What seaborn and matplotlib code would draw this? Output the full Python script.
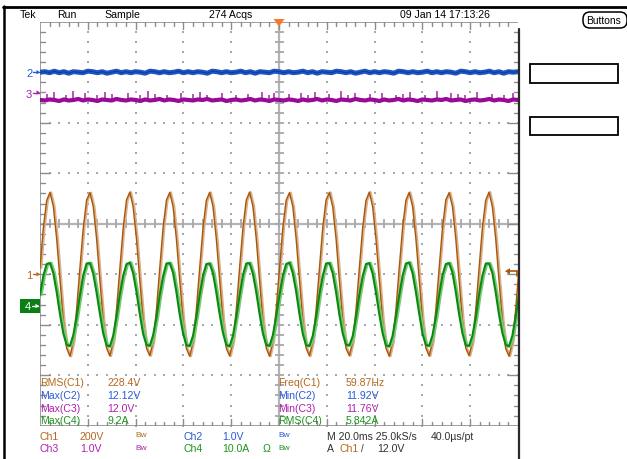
import numpy as np
import pandas as pd
import matplotlib
matplotlib.use("Agg")
import matplotlib.pyplot as plt
from matplotlib.patches import FancyBboxPatch, Rectangle, Polygon
from matplotlib.lines import Line2D
from matplotlib.transforms import IdentityTransform
import seaborn as sns

# ---------------- scope settings (read from the readout) ----------------
time_per_div_ms = 20.0
ch1_volts_per_div = 200.0
ch1_ground_div = -1.0
ch2_volts_per_div = 1.0
ch2_ref_volts, ch2_ref_div = 12.0, 3.0
ch3_volts_per_div = 1.0
ch3_ref_volts, ch3_ref_div = 12.0, 2.62
ch4_amps_per_div = 10.0
ch4_ground_div = -1.6
trigger_level_volts = 12.0

# ---------------- waveform readings ----------------
wave_start_ms = -100.0
wave_step_ms = 1.3917
ch1_volts = [
    24, 183, 292, 324, 269, 141, -23, -183, -293, -325, -268, -140,
    25, 182, 293, 323, 268, 142, -24, -184, -292, -324, -267, -141,
    23, 183, 294, 325, 267, 141, -25, -183, -293, -323, -268, -142,
    24, 184, 293, 324, 268, 140, -24, -182, -294, -325, -269, -141,
    24, 183, 292, 324, 268, 141, -23, -183, -293, -324, -268, -141,
    25, 182, 293, 325, 269, 142, -24, -184, -292, -325, -267, -140,
    24, 183, 293, 323, 268, 141, -24, -183, -293, -324, -268, -141,
    23, 184, 294, 324, 267, 141, -25, -182, -294, -323, -268, -142,
    24, 183, 292, 325, 268, 140, -24, -183, -293, -325, -269, -141,
    25, 182, 293, 324, 269, 142, -23, -184, -292, -324, -267, -141,
    24, 183, 294, 323, 268, 141, -24, -183, -293, -323, -268, -140,
    23, 184, 293, 325, 267, 141, -25, -182, -294, -325, -268, -142,
    24,
]
ch4_amps = [
    1.9, 5.7, 8.0, 8.2, 6.2, 2.5, -1.9, -5.7, -8.0, -8.2, -6.1, -2.5,
    1.8, 5.8, 8.1, 8.2, 6.1, 2.4, -1.8, -5.7, -8.1, -8.3, -6.2, -2.4,
    2.0, 5.7, 8.0, 8.3, 6.2, 2.5, -1.9, -5.8, -8.0, -8.2, -6.1, -2.6,
    1.9, 5.6, 8.1, 8.2, 6.3, 2.5, -2.0, -5.7, -8.1, -8.2, -6.2, -2.5,
    1.9, 5.7, 8.0, 8.1, 6.2, 2.4, -1.9, -5.6, -8.0, -8.3, -6.2, -2.5,
    1.8, 5.8, 8.1, 8.2, 6.1, 2.5, -1.8, -5.7, -8.0, -8.2, -6.1, -2.4,
    1.9, 5.7, 8.0, 8.3, 6.2, 2.6, -1.9, -5.8, -8.1, -8.2, -6.2, -2.5,
    2.0, 5.7, 8.1, 8.2, 6.2, 2.5, -2.0, -5.7, -8.0, -8.1, -6.3, -2.5,
    1.9, 5.6, 8.0, 8.2, 6.1, 2.4, -1.9, -5.7, -8.1, -8.3, -6.2, -2.4,
    1.8, 5.7, 8.1, 8.3, 6.2, 2.5, -1.8, -5.8, -8.0, -8.2, -6.1, -2.5,
    1.9, 5.8, 8.0, 8.2, 6.3, 2.5, -1.9, -5.7, -8.1, -8.2, -6.2, -2.6,
    2.0, 5.7, 8.1, 8.1, 6.2, 2.4, -2.0, -5.6, -8.0, -8.3, -6.2, -2.5,
    1.9,
]

dc_start_ms = -100.0
dc_step_ms = 2.0
ch2_volts = [
    12.00, 12.01, 11.99, 12.02, 11.99, 12.01, 11.98, 12.01, 12.00, 11.99,
    12.02, 12.01, 11.99, 12.01, 11.98, 12.00, 12.02, 11.99, 12.01, 11.99,
    12.01, 12.00, 11.98, 12.02, 12.01, 11.99, 12.01, 11.99, 12.00, 12.02,
    11.99, 12.01, 11.99, 12.01, 12.00, 11.98, 12.02, 12.01, 11.99, 12.01,
    11.99, 12.00, 12.02, 11.99, 12.01, 11.98, 12.01, 12.00, 11.99, 12.02,
    12.01, 11.99, 12.01, 11.99, 12.00, 12.02, 11.99, 12.01, 11.98, 12.01,
    12.00, 11.99, 12.02, 12.01, 11.99, 12.01, 11.98, 12.00, 12.02, 11.99,
    12.01, 11.99, 12.01, 12.00, 11.98, 12.02, 12.01, 11.99, 12.01, 11.99,
    12.00, 12.02, 11.99, 12.01, 11.99, 12.01, 12.00, 11.98, 12.02, 12.01,
    11.99, 12.01, 11.99, 12.00, 12.02, 11.99, 12.01, 11.98, 12.01, 12.00,
    12.01,
]
ch3_volts = [
    11.83, 11.82, 11.84, 11.83, 11.81, 11.84, 11.82, 11.83, 11.85, 11.82,
    11.84, 11.83, 11.81, 11.84, 11.83, 11.82, 11.85, 11.83, 11.82, 11.84,
    11.83, 11.81, 11.84, 11.82, 11.83, 11.85, 11.82, 11.84, 11.83, 11.81,
    11.84, 11.83, 11.82, 11.84, 11.83, 11.85, 11.82, 11.83, 11.84, 11.81,
    11.83, 11.84, 11.82, 11.83, 11.85, 11.82, 11.84, 11.83, 11.81, 11.84,
    11.83, 11.82, 11.84, 11.83, 11.81, 11.84, 11.82, 11.83, 11.85, 11.82,
    11.84, 11.83, 11.81, 11.84, 11.83, 11.82, 11.85, 11.83, 11.82, 11.84,
    11.83, 11.81, 11.84, 11.82, 11.83, 11.85, 11.82, 11.84, 11.83, 11.81,
    11.84, 11.83, 11.82, 11.84, 11.83, 11.85, 11.82, 11.83, 11.84, 11.81,
    11.83, 11.84, 11.82, 11.83, 11.85, 11.82, 11.84, 11.83, 11.81, 11.84,
    11.83,
]
ch3_spike_ms = [-97, -94, -89, -86, -81, -76, -73, -70, -63, -58, -55, -52, -47, -41,
                -36, -33, -30, -24, -18, -13, -7, -4, -2, 4, 9, 12, 15, 21, 26, 29, 32,
                38, 43, 49, 52, 55, 61, 66, 72, 75, 78, 83, 89, 94, 98]
ch3_spike_volts = [11.95, 11.99, 11.93, 12.01, 11.97, 11.92, 11.98, 11.94, 11.96, 11.93,
                   12.00, 11.95, 11.92, 11.97, 11.94, 11.98, 11.93, 11.96, 11.92, 11.95,
                   11.99, 11.93, 11.97, 11.94, 11.96, 11.92, 11.98, 11.95, 12.00, 11.93,
                   11.96, 11.94, 11.97, 11.92, 11.95, 11.98, 11.93, 12.01, 11.96, 11.94,
                   11.92, 11.99, 11.95, 11.93, 11.97]

# ---------------- readout text ----------------
header_texts = ["Tek", "Run", "Sample", "274 Acqs", "09 Jan 14 17:13:26"]
meas_left_names = ["RMS(C1)", "Max(C2)", "Max(C3)", "Max(C4)"]
meas_left_values = ["228.4V", "12.12V", "12.0V", "9.2A"]
meas_right_names = ["Freq(C1)", "Min(C2)", "Min(C3)", "RMS(C4)"]
meas_right_values = ["59.87Hz", "11.92V", "11.76V", "5.842A"]

# ---------------- styling ----------------
C1 = "#a85608"
C1_LIGHT = "#d9b08a"
C2 = "#1d56c2"
C3 = "#980a98"
C4 = "#0b8a10"
C4_LIGHT = "#78c878"
C1_TXT = "#b4681e"
C2_TXT = "#2a5ad6"
C3_TXT = "#b020b0"
C4_TXT = "#1e921e"
GRID = "#a8a8a8"
FS = 7.6

sns.set_style("white")
plt.rcParams["font.family"] = ["Liberation Sans", "DejaVu Sans"]

W, H = 627, 460
fig = plt.figure(figsize=(W / 100, H / 100), dpi=100)
fig.patch.set_facecolor("white")

# graticule box in pixels
GX0, GX1, GY0, GY1 = 40.0, 518.0, 22.7, 426.7
ax = fig.add_axes([GX0 / W, 1 - GY1 / H, (GX1 - GX0) / W, (GY1 - GY0) / H])
ax.set_xlim(0, 10)
ax.set_ylim(-4, 4)
ax.axis("off")
PXX = (GX1 - GX0) / 10.0
PXY = (GY1 - GY0) / 8.0

# dotted division lines
minor = np.round(np.arange(0, 10.001, 0.2), 3)
minor_y = np.round(np.arange(-4, 4.001, 0.2), 3)
dx, dy = [], []
for xv in range(1, 10):
    if xv == 5:
        continue
    dx += [xv] * len(minor_y)
    dy += list(minor_y)
for yv in range(-3, 4):
    if yv == 0:
        continue
    dx += list(minor)
    dy += [yv] * len(minor)
ax.scatter(dx, dy, s=1.3, marker="s", color=GRID, linewidths=0, zorder=1)

# centre cross with ticks
ax.axhline(0, color="#b4b4b4", lw=1.6, zorder=1.5)
ax.axvline(5, color="#b4b4b4", lw=1.6, zorder=1.5)
ax.vlines(minor[1:-1], -4.5 / PXY, 4.5 / PXY, color="#a8a8a8", lw=1.3, zorder=1.5)
ax.hlines(minor_y[1:-1], 5 - 4.5 / PXX, 5 + 4.5 / PXX, color="#a8a8a8", lw=1.3, zorder=1.5)

# edges and edge ticks
edge_c = "#8c8c8c"
ax.plot([0, 0], [-4, 4], color=edge_c, lw=1.2, zorder=2)
ax.plot([0, 10], [4, 4], color=edge_c, lw=1.2, zorder=2)
ax.plot([0, 10], [-4, -4], color=edge_c, lw=1.2, zorder=2)
for xv in minor[1:-1]:
    major = abs(xv - round(xv)) < 1e-6
    L = (7 if major else 4) / PXY
    ax.plot([xv, xv], [4, 4 - L], color=edge_c, lw=1, zorder=2)
    ax.plot([xv, xv], [-4, -4 + L], color=edge_c, lw=1, zorder=2)
for yv in minor_y[1:-1]:
    major = abs(yv - round(yv)) < 1e-6
    L = (10 if major else 4.5) / PXX
    ax.plot([0, L], [yv, yv], color=edge_c, lw=1, zorder=2)
    ax.plot([10, 10 - L], [yv, yv], color=edge_c, lw=1, zorder=2)

# ---------------- traces ----------------
t_wave = wave_start_ms + wave_step_ms * np.arange(len(ch1_volts))
t_dc = dc_start_ms + dc_step_ms * np.arange(len(ch2_volts))
x_wave = t_wave / time_per_div_ms + 5
x_dc = t_dc / time_per_div_ms + 5

df1 = pd.DataFrame({"x": x_wave, "y": np.array(ch1_volts) / ch1_volts_per_div + ch1_ground_div})
df4 = pd.DataFrame({"x": x_wave, "y": np.array(ch4_amps) / ch4_amps_per_div + ch4_ground_div})
df2 = pd.DataFrame({"x": x_dc, "y": (np.array(ch2_volts) - ch2_ref_volts) / ch2_volts_per_div + ch2_ref_div})
df3 = pd.DataFrame({"x": x_dc, "y": (np.array(ch3_volts) - ch3_ref_volts) / ch3_volts_per_div + ch3_ref_div})

shift = 1.2 / PXX
df1s = df1.assign(x=df1["x"] + shift)
df4s = df4.assign(x=df4["x"] + shift)

sns.lineplot(data=df1s, x="x", y="y", color=C1_LIGHT, lw=1.6, estimator=None, sort=False, ax=ax, zorder=3)
sns.lineplot(data=df1, x="x", y="y", color=C1, lw=1.0, estimator=None, sort=False, ax=ax, zorder=3.1)
sns.lineplot(data=df4s, x="x", y="y", color=C4_LIGHT, lw=2.2, estimator=None, sort=False, ax=ax, zorder=3.2)
sns.lineplot(data=df4, x="x", y="y", color=C4, lw=1.5, estimator=None, sort=False, ax=ax, zorder=3.3)
sns.lineplot(data=df2, x="x", y="y", color=C2, lw=3.6, estimator=None, sort=False, ax=ax, zorder=3)
sns.lineplot(data=df2, x="x", y="y", color="#0d3f9e", lw=0.8, estimator=None, sort=False, ax=ax, zorder=3.05)
spike_x = np.array(ch3_spike_ms) / time_per_div_ms + 5
spike_base = (11.83 - ch3_ref_volts) / ch3_volts_per_div + ch3_ref_div
spike_top = (np.array(ch3_spike_volts) - ch3_ref_volts) / ch3_volts_per_div + ch3_ref_div
ax.vlines(spike_x, spike_base, spike_top, color="#a63aa6", lw=1.2, zorder=3)
sns.lineplot(data=df3, x="x", y="y", color=C3, lw=3.0, estimator=None, sort=False, ax=ax, zorder=3.1)
ax.set_xlim(0, 10)
ax.set_ylim(-4, 4)
ax.axis("off")

# ---------------- figure level furniture (pixel space) ----------------
ID = IdentityTransform()


def fline(x0, y0, x1, y1, **kw):
    fig.add_artist(Line2D([x0, x1], [H - y0, H - y1], transform=ID, **kw))


def ftext(x, y, s, color="black", size=FS, ha="left", **kw):
    fig.text(x / W, 1 - y / H, s, color=color, fontsize=size, ha=ha, va="center", **kw)


# outer frame
fline(3, 7.5, W, 7.5, color="black", lw=2.0)
fline(3.8, 7, 3.8, H, color="black", lw=1.8)
# right screen border
fline(518.5, 30, 518.5, H, color="#2a2a2a", lw=1.6)

# header
ftext(20, 15, header_texts[0])
ftext(57, 15, header_texts[1])
ftext(104, 15, header_texts[2])
ftext(209, 15, header_texts[3])
ftext(400, 15, header_texts[4])

# buttons and side boxes
fig.add_artist(FancyBboxPatch((583, H - 29), 44, 16, boxstyle="round,pad=0,rounding_size=7",
                              transform=ID, facecolor="white", edgecolor="black", lw=1.1))
ftext(604, 21, "Buttons", ha="center", size=7.4)
fig.add_artist(Rectangle((530, H - 83.5), 88, 18.5, transform=ID, facecolor="white",
                         edgecolor="black", lw=1.3))
fig.add_artist(Rectangle((530, H - 136), 88, 18.5, transform=ID, facecolor="white",
                         edgecolor="black", lw=1.3))

# trigger position marker
fig.add_artist(Polygon([[273.5, H - 20], [284.5, H - 20], [279, H - 27.5]], closed=True,
                       transform=ID, facecolor="#f47a2a", edgecolor="none"))
# trigger level marker on right edge
trig_y = GY0 + (4 - (trigger_level_volts / ch1_volts_per_div + ch1_ground_div)) * PXY
fig.add_artist(Polygon([[505, H - trig_y], [510, H - trig_y + 3], [510, H - trig_y - 3]],
                       closed=True, transform=ID, facecolor=C1, edgecolor="none"))
fline(508, trig_y, 517, trig_y, color=C1, lw=1.2)
fline(517, trig_y, 517, trig_y + 5, color=C1, lw=1.2)


def ground_marker(label, y, color):
    ftext(26, y + 1, label, color=color, size=8)
    fline(33, y, 39, y, color=color, lw=1.0)
    fig.add_artist(Polygon([[40, H - y], [36.5, H - y + 2.2], [36.5, H - y - 2.2]], closed=True,
                           transform=ID, facecolor=color, edgecolor="none"))


def div_to_py(v):
    return GY0 + (4 - v) * PXY


ground_marker("2", div_to_py(ch2_ref_div), C2_TXT)
ground_marker("3", 93.5, C3_TXT)
ground_marker("1", div_to_py(ch1_ground_div), C1_TXT)
y4 = div_to_py(ch4_ground_div) + 1.5
fig.add_artist(Rectangle((20, H - y4 - 6.8), 20, 13.6, transform=ID, facecolor="#0a7f14",
                         edgecolor="none"))
ftext(24.5, y4 + 0.5, "4", color="white", size=8)
fline(32, y4, 38, y4, color="white", lw=1.0)
fig.add_artist(Polygon([[39, H - y4], [35.5, H - y4 + 2.2], [35.5, H - y4 - 2.2]], closed=True,
                       transform=ID, facecolor="white", edgecolor="none"))

# measurement readouts
row_y = [383, 396, 409, 421.5]
ch_txt = [C1_TXT, C2_TXT, C3_TXT, C4_TXT]
for i in range(4):
    ftext(40, row_y[i], meas_left_names[i], color=ch_txt[i])
    ftext(107, row_y[i], meas_left_values[i], color=ch_txt[i])
    ftext(278, row_y[i], meas_right_names[i], color=ch_txt[i])
    ftext(346, row_y[i], meas_right_values[i], color=ch_txt[i])

# channel setup rows
r1, r2 = 437, 449.5
ftext(40, r1, "Ch1", color=C1_TXT)
ftext(79, r1, "200V", color=C1_TXT)
ftext(135, r1 - 1, "Bw", color=C1_TXT, size=6)
ftext(183, r1, "Ch2", color=C2_TXT)
ftext(222, r1, "1.0V", color=C2_TXT)
ftext(278, r1 - 1, "Bw", color=C2_TXT, size=6)
ftext(327, r1, "M 20.0ms 25.0kS/s", color="#303030")
ftext(431, r1, "40.0µs/pt", color="#303030")
ftext(40, r2, "Ch3", color=C3_TXT)
ftext(80, r2, "1.0V", color=C3_TXT)
ftext(135, r2 - 1, "Bw", color=C3_TXT, size=6)
ftext(183, r2, "Ch4", color=C4_TXT)
ftext(222, r2, "10.0A", color=C4_TXT)
ftext(263, r2, "Ω", color=C4_TXT)
ftext(278, r2 - 1, "Bw", color=C4_TXT, size=6)
ftext(327, r2, "A", color="#303030")
ftext(340, r2, "Ch1", color=C1_TXT)
ftext(361, r2, "/", color="#303030", size=7)
ftext(377, r2, "12.0V", color="#303030")

fig.savefig("out.png", dpi=100)
